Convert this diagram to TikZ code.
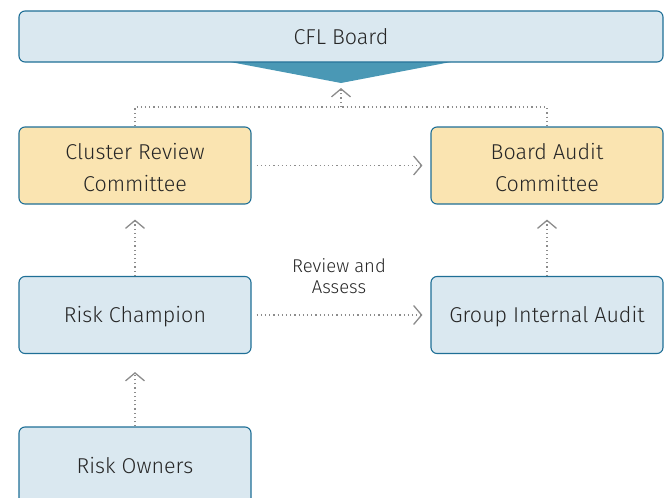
\documentclass[tikz,border=0pt]{standalone}
\usepackage{fontspec}
\setmainfont{Fira Sans}[UprightFont=* Light]
\usetikzlibrary{arrows.meta}
\definecolor{boxblue}{HTML}{DAE8F0}
\definecolor{boxyellow}{HTML}{FAE4B1}
\definecolor{edgeblue}{HTML}{1F6F96}
\definecolor{tri}{HTML}{4A98B5}
\definecolor{arr}{HTML}{8C8C8C}
\definecolor{txt}{HTML}{262626}
\newcommand{\lowertext}[1]{\raisebox{-2pt}[\height][\depth]{#1}}
\tikzset{
  box/.style={draw=edgeblue, line width=1.1pt, rounded corners=6pt, fill=boxblue,
    minimum width=232pt, minimum height=77pt, align=center, text=txt,
    font=\fontsize{21.5}{32}\selectfont, inner sep=0pt},
  ybox/.style={box, fill=boxyellow},
  conn/.style={draw=arr, line width=1.2pt, dash pattern=on 1.2pt off 3pt,
    -{Straight Barb[length=8pt, width=19pt, line width=1.3pt]}},
  plain/.style={draw=arr, line width=1.2pt, dash pattern=on 1.2pt off 3pt},
  lbl/.style={font=\fontsize{18.5}{21}\selectfont, text=txt, align=center}
}
\begin{document}
\begin{tikzpicture}[x=1pt,y=-1pt]
\useasboundingbox (0,0) rectangle (665,498);
% CFL Board with triangle
\fill[tri] (225,61) -- (456,61) -- (341,83) -- cycle;
\node[box, minimum width=644pt, minimum height=51pt] (cfl) at (341,36.5) {CFL Board};
\node[ybox] (crc) at (135,165.5) {\lowertext{\parbox{200pt}{\centering Cluster Review\\Committee}}};
\node[ybox] (bac) at (547,165.5) {\lowertext{\parbox{200pt}{\centering Board Audit\\Committee}}};
\node[box] (rc) at (135,315) {\lowertext{Risk Champion}};
\node[box] (gia) at (547,315) {\lowertext{Group Internal Audit}};
\node[box] (ro) at (135,465.5) {Risk Owners};
\coordinate (apex) at (341,88);
\coordinate (join) at (341,107);
% connectors
\draw[plain] (crc.north) -- (crc.north |- join) -- (bac.north |- join) -- (bac.north);
\draw[conn] (join) -- (apex);
\draw[conn, shorten >=8pt, shorten <=5pt] (crc.east) -- (bac.west);
\draw[conn, shorten >=8pt, shorten <=5pt] (rc.east) -- node[lbl, above=17pt, xshift=-2pt] {Review and\\Assess} (gia.west);
\draw[conn, shorten >=15pt] (rc.north) -- (crc.south);
\draw[conn, shorten >=15pt] (gia.north) -- (bac.south);
\draw[conn, shorten >=18pt] (ro.north) -- (rc.south);
\end{tikzpicture}
\end{document}
